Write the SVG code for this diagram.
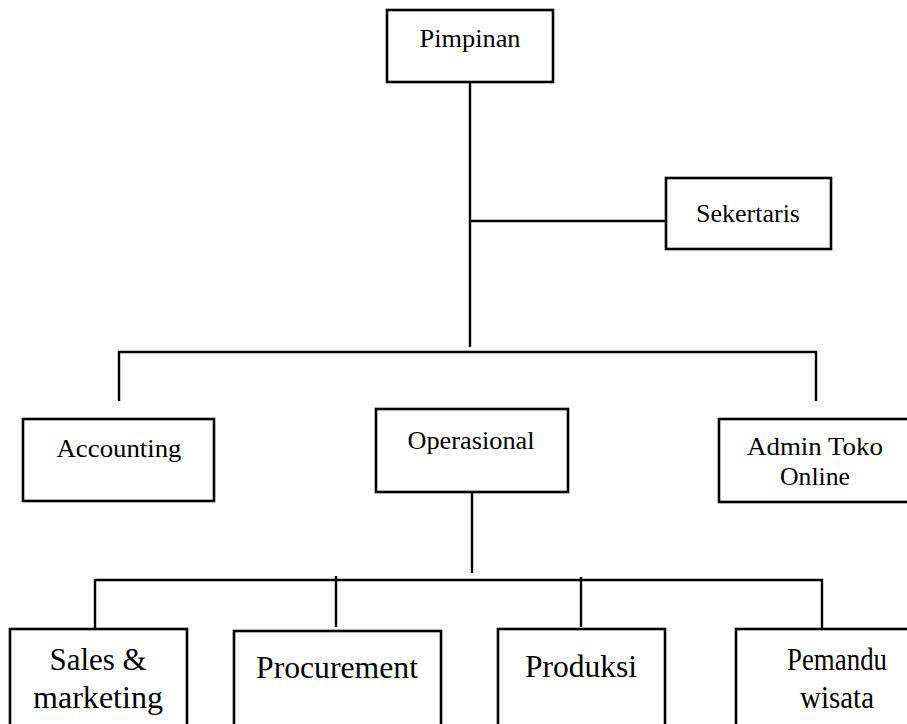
<svg xmlns="http://www.w3.org/2000/svg" width="907" height="724" viewBox="0 0 907 724">
<style>
.box{fill:#fff;stroke:#000;stroke-width:2.6}
.ln{fill:none;stroke:#000;stroke-width:2.4}
.t{font-family:"Liberation Serif","Times New Roman",serif;fill:#000;text-anchor:middle}
.s{font-size:26px}
.l{font-size:31.5px}
</style>
<rect width="907" height="724" fill="#fff"/>
<g id="connectors">
<line class="ln" x1="470" y1="82" x2="470" y2="347"/>
<line class="ln" x1="470" y1="221" x2="666" y2="221"/>
<polyline class="ln" points="119,401 119,352 816,352 816,401"/>
<line class="ln" x1="472" y1="492" x2="472" y2="573"/>
<polyline class="ln" points="95,629 95,580 822,580 822,629"/>
<line class="ln" x1="336" y1="576" x2="336" y2="627"/>
<line class="ln" x1="581" y1="577" x2="581" y2="627"/>
</g>
<g id="pimpinan">
<rect class="box" x="387" y="10" width="166" height="72"/>
<text class="t s" x="470" y="47" textLength="101" lengthAdjust="spacingAndGlyphs">Pimpinan</text>
</g>
<g id="sekertaris">
<rect class="box" x="666" y="178" width="165" height="71"/>
<text class="t s" x="748" y="222" textLength="104" lengthAdjust="spacingAndGlyphs">Sekertaris</text>
</g>
<g id="accounting">
<rect class="box" x="23" y="419" width="191" height="82"/>
<text class="t s" x="119" y="457" textLength="125" lengthAdjust="spacingAndGlyphs">Accounting</text>
</g>
<g id="operasional">
<rect class="box" x="376" y="409" width="192" height="83"/>
<text class="t s" x="471" y="449" textLength="127" lengthAdjust="spacingAndGlyphs">Operasional</text>
</g>
<g id="admin">
<rect class="box" x="719" y="419" width="200" height="83"/>
<text class="t s" x="815" y="455" textLength="136" lengthAdjust="spacingAndGlyphs">Admin Toko</text>
<text class="t s" x="815" y="485" textLength="70" lengthAdjust="spacingAndGlyphs">Online</text>
</g>
<g id="sales">
<rect class="box" x="10" y="629" width="177" height="110"/>
<text class="t l" x="98" y="670" textLength="97" lengthAdjust="spacingAndGlyphs">Sales &amp;</text>
<text class="t l" x="98" y="708" textLength="130" lengthAdjust="spacingAndGlyphs">marketing</text>
</g>
<g id="procurement">
<rect class="box" x="234" y="631" width="207" height="110"/>
<text class="t l" x="337" y="678" textLength="162" lengthAdjust="spacingAndGlyphs">Procurement</text>
</g>
<g id="produksi">
<rect class="box" x="498" y="629" width="167" height="110"/>
<text class="t l" x="581" y="677" textLength="112" lengthAdjust="spacingAndGlyphs">Produksi</text>
</g>
<g id="pemandu">
<rect class="box" x="736" y="629" width="190" height="110"/>
<text class="t l" x="837" y="670" textLength="100" lengthAdjust="spacingAndGlyphs">Pemandu</text>
<text class="t l" x="837" y="708" textLength="74" lengthAdjust="spacingAndGlyphs">wisata</text>
</g>
</svg>
